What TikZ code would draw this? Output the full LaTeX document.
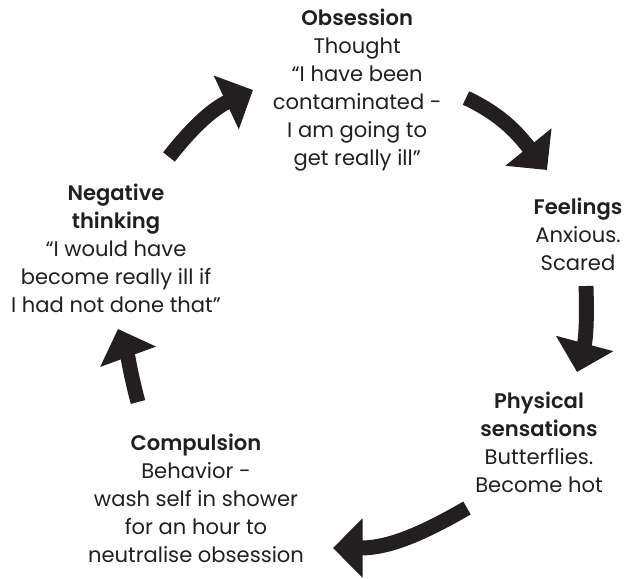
\documentclass[tikz,border=0pt]{standalone}
\usepackage{fontspec}
\setmainfont{Poppins}[BoldFont={* SemiBold}]
\usepackage{tikz}
\usetikzlibrary{arrows.meta}

\definecolor{ink}{HTML}{231F20}

\begin{document}
\begin{tikzpicture}[
    every node/.style={align=center, text=ink, font=\fontsize{15}{19.9}\selectfont},
    cyclearrow/.style={draw=ink, line width=10.6pt, -{Triangle[length=21pt, width=41pt]}}
  ]
      \useasboundingbox (0,0) rectangle (15.675,14.45);
      \node (obs) at (8.93,12.2) {\textbf{Obsession}\\Thought\\“I have been\\contaminated -\\I am going to\\get really ill”};
      \node (feel) at (14.45,8.6) {\textbf{Feelings}\\Anxious.\\Scared};
      \node (phys) at (13.475,3.4) {\textbf{Physical}\\\textbf{sensations}\\Butterflies.\\Become hot};
      \node (comp) at (4.9,2.0) {\textbf{Compulsion}\\Behavior -\\wash self in shower\\for an hour to\\neutralise obsession};
      \node (neg) at (2.9,8.25) {\textbf{Negative}\\\textbf{thinking}\\“I would have\\become really ill if\\I had not done that”};
      \coordinate (negout) at (4.225,10.525);
      \coordinate (obsin) at (6.325,12.2);
      \coordinate (obsout) at (11.65,12.0);
      \coordinate (feelin) at (13.675,10.2);
      \coordinate (feelout) at (14.65,7.3);
      \coordinate (physin) at (14.425,5.15);
      \coordinate (physout) at (11.675,1.75);
      \coordinate (compin) at (8.325,0.75);
      \coordinate (compout) at (3.45,4.4);
      \coordinate (negin) at (2.95,6.225);
      \draw[cyclearrow] (negout) to[out=52, in=205] (obsin);
      \draw[cyclearrow] (obsout) to[out=-25, in=129] (feelin);
      \draw[cyclearrow] (feelout) to[out=-88, in=75] (physin);
      \draw[cyclearrow] (physout) to[out=210, in=0] (compin);
      \draw[cyclearrow] (compout) to[out=105, in=290] (negin);
    \end{tikzpicture}
\end{document}
